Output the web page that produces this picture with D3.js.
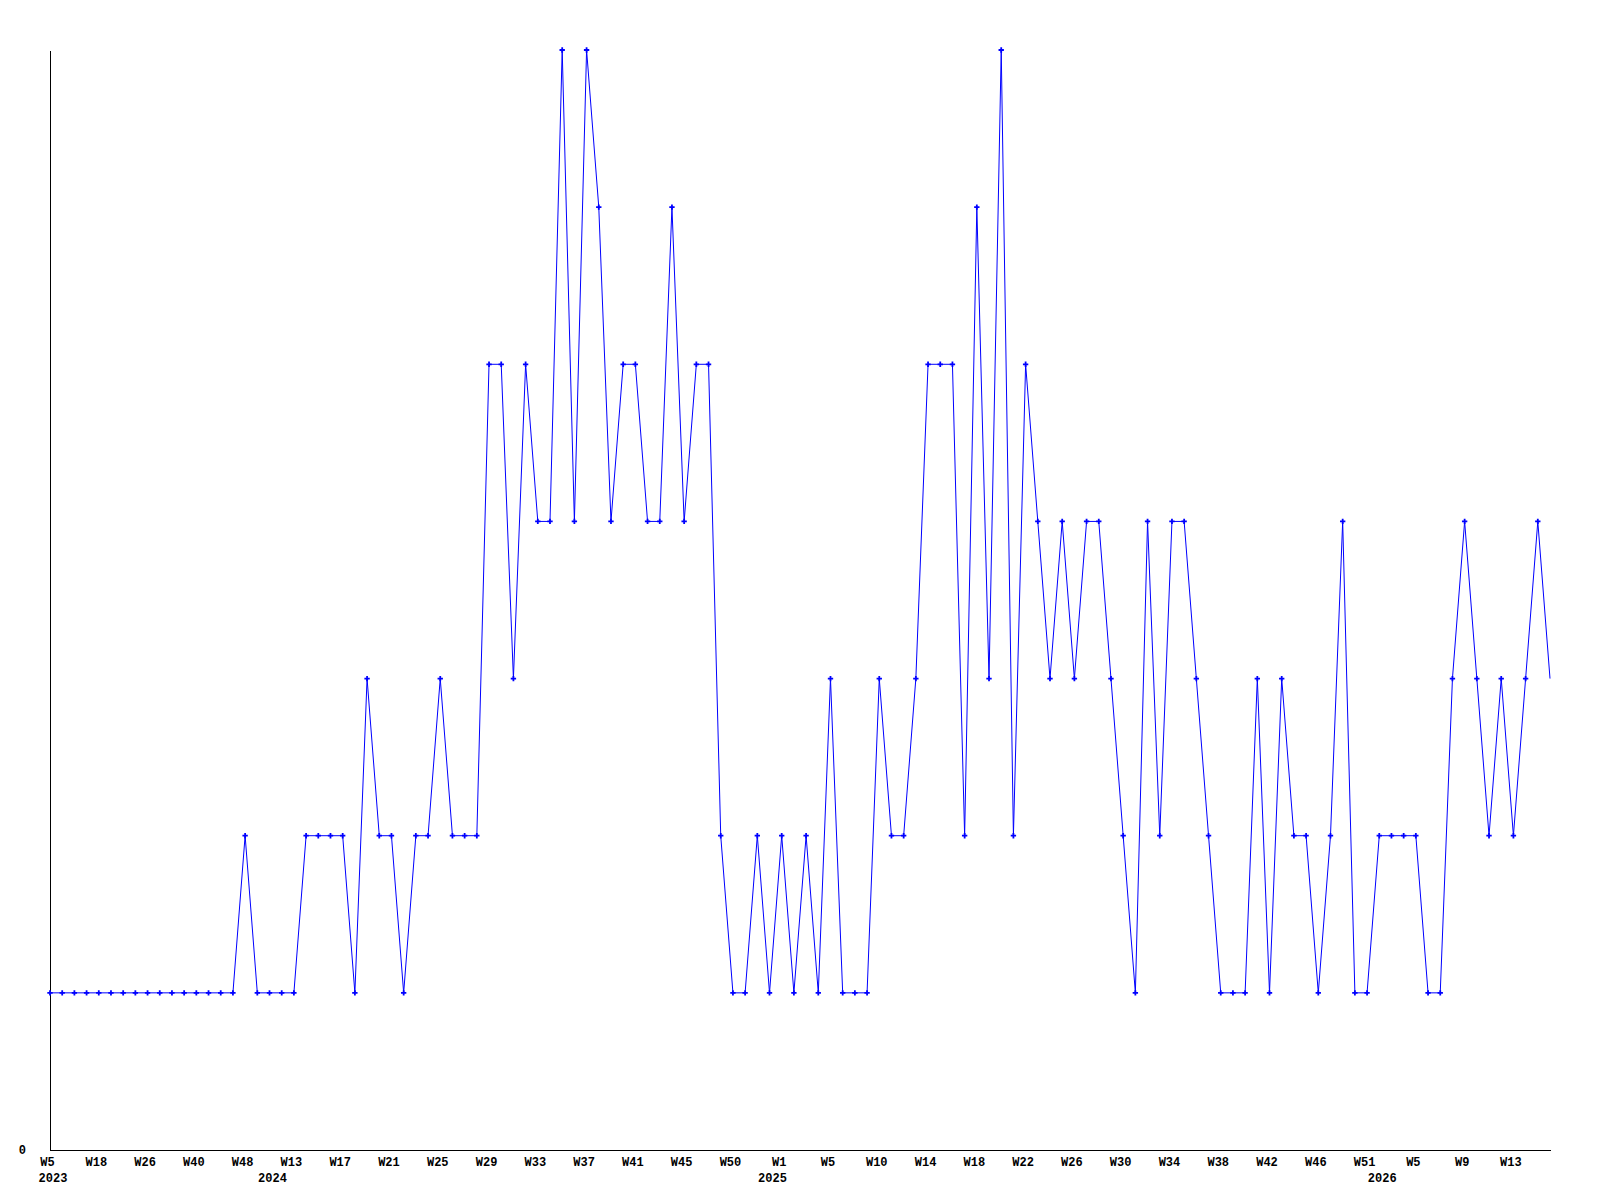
<!DOCTYPE html>
<html>
<head>
<meta charset="utf-8">
<script src="https://cdn.jsdelivr.net/npm/d3@7"></script>
<style>
  html, body { margin: 0; padding: 0; background: #ffffff; }
  svg { display: block; }
  text { font-family: "Liberation Mono", "DejaVu Sans Mono", monospace; font-weight: bold; font-size: 12px; fill: #000; }
</style>
</head>
<body>
<svg id="chart" width="1600" height="1200"></svg>
<script>
// ---- data ----
const values = [
  1,1,1,1,1,1,1,1,1,1,1,1,1,1,1,1,
  2,1,1,1,1,
  2,2,2,2,
  1,3,2,2,1,2,2,3,2,2,2,
  5,5,3,5,4,4,7,4,7,6,4,5,5,4,4,6,4,5,5,
  2,1,1,2,1,2,1,2,1,3,1,1,1,3,2,2,3,
  5,5,5,2,6,3,7,2,5,4,3,4,3,4,4,3,2,1,4,2,4,4,3,2,1,1,1,3,1,3,2,2,1,2,4,
  1,1,2,2,2,2,1,1,3,4,3,2,3,2,3,4,3
];
const categories = d3.range(values.length); // sample index
const tickLabels = ["W5","W18","W26","W40","W48","W13","W17","W21","W25","W29","W33",
  "W37","W41","W45","W50","W1","W5","W10","W14","W18","W22","W26","W30","W34","W38",
  "W42","W46","W51","W5","W9","W13"];
const tickEvery = 4;
const years = ["2023","2024","2025","2026"];
const yearStartIndex = [0, 18, 59, 109];
const yTicks = [0];
const yMax = 7;

// ---- layout ----
const mLeft = 50, mRight = 1550, mTop = 50, mBottom = 1150;
const fontFamily = '"Liberation Mono", "DejaVu Sans Mono", monospace';
const svg = d3.select("#chart");

const x = d3.scalePoint().domain(categories).range([mLeft, mRight]);
const y = d3.scaleLinear().domain([0, yMax]).range([mBottom, mTop]);

// x axis
const tickIdx = tickLabels.map((_, i) => categories[i * tickEvery]);
const xAxis = d3.axisBottom(x)
  .tickValues(tickIdx)
  .tickFormat((d, i) => tickLabels[i])
  .tickSize(0)
  .tickSizeOuter(0)
  .tickPadding(0);
const gx = svg.append("g").attr("transform", `translate(0,${mBottom})`).call(xAxis);
gx.select(".domain").attr("stroke", "#000").attr("stroke-width", 1).attr("shape-rendering", "crispEdges");
gx.selectAll(".tick text")
  .attr("dy", null)
  .attr("y", 16)
  .attr("x", -3)
  .attr("text-anchor", "middle")
  .style("font-family", fontFamily)
  .style("font-weight", "bold")
  .style("font-size", "12px")
  .attr("fill", "#000");

// year labels
svg.append("g").selectAll("text")
  .data(years)
  .join("text")
  .attr("x", (d, i) => x(categories[yearStartIndex[i]]) + 3)
  .attr("y", mBottom + 32)
  .attr("text-anchor", "middle")
  .text(d => d);

// y axis
const yAxis = d3.axisLeft(y)
  .tickValues(yTicks)
  .tickFormat(d3.format("d"))
  .tickSize(0)
  .tickSizeOuter(0)
  .tickPadding(0);
const gy = svg.append("g").attr("transform", `translate(${mLeft},0)`).call(yAxis);
gy.select(".domain").attr("stroke", "#000").attr("stroke-width", 1).attr("shape-rendering", "crispEdges");
gy.selectAll(".tick text")
  .attr("x", -24)
  .attr("dy", "0.3em")
  .attr("text-anchor", "end")
  .style("font-family", fontFamily)
  .style("font-weight", "bold")
  .style("font-size", "12px")
  .attr("fill", "#000");

// line
const line = d3.line()
  .x((d, i) => x(categories[i]))
  .y(d => y(d));
svg.append("path")
  .datum(values)
  .attr("fill", "none")
  .attr("stroke", "#0000ff")
  .attr("stroke-width", 1)
  .attr("d", line);

// markers (last point sits on the plot edge without a marker)
svg.append("g").selectAll("path")
  .data(values.slice(0, values.length - 1))
  .join("path")
  .attr("transform", (d, i) => `translate(${x(categories[i])},${y(d)})`)
  .attr("d", d3.symbol(d3.symbolCross, 16))
  .attr("fill", "#0000ff");
</script>
</body>
</html>
